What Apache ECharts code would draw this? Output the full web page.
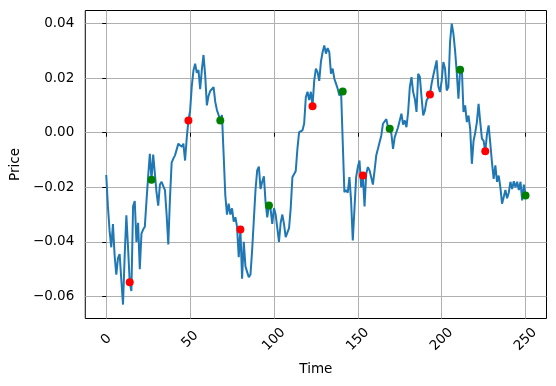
<!DOCTYPE html>
<html>
<head>
<meta charset="utf-8">
<script src="https://cdn.jsdelivr.net/npm/echarts@6.0.0/dist/echarts.min.js"></script>
<style>
  body { margin: 0; background: #fff; }
  #price-view { width: 556px; height: 386px; }
</style>
</head>
<body>
<div id="price-view"></div>
<script>
// price per time step, t = 0 .. 250
var prices = [
  -0.0155, -0.027, -0.036, -0.042, -0.0335, -0.045, -0.052, -0.046, -0.0445, -0.054,
  -0.063, -0.045, -0.0303, -0.042, -0.0548, -0.058, -0.027, -0.025, -0.040, -0.033,
  -0.050, -0.037, -0.0355, -0.0345, -0.025, -0.016, -0.0077, -0.0172, -0.008, -0.015,
  -0.022, -0.0267, -0.019, -0.018, -0.0185, -0.021, -0.030, -0.041, -0.024, -0.011,
  -0.0095, -0.0083, -0.0077, -0.004, -0.0039, -0.0052, -0.004, -0.0102, -0.002, 0.0045,
  0.008, 0.017, 0.0228, 0.0253, 0.022, 0.023, 0.016, 0.023, 0.0285, 0.021,
  0.010, 0.0135, 0.0153, 0.0147, 0.0167, 0.0113, 0.0083, 0.0065, 0.0045, 0.0065,
  -0.008, -0.023, -0.030, -0.026, -0.030, -0.0277, -0.0326, -0.031, -0.0345, -0.0456,
  -0.0355, -0.0535, -0.040, -0.049, -0.051, -0.053, -0.052, -0.043, -0.032, -0.021,
  -0.0138, -0.0124, -0.0206, -0.018, -0.016, -0.0255, -0.031, -0.0267, -0.028, -0.0334,
  -0.0276, -0.030, -0.035, -0.040, -0.033, -0.030, -0.0335, -0.0383, -0.0383, -0.035,
  -0.0276, -0.0163, -0.0163, -0.014, -0.0058, 0.0002, -0.0003, 0.0009, 0.0033, 0.013,
  0.015, 0.012, 0.015, 0.0097, 0.019, 0.0235, 0.0222, 0.019, 0.026, 0.0295,
  0.032, 0.029, 0.031, 0.0295, 0.0216, 0.0235, 0.0198, 0.018, 0.0161, 0.0136,
  0.0155, 0.0151, -0.0218, -0.021, -0.022, -0.0163, -0.025, -0.0395, -0.028, -0.0163,
  -0.0126, -0.0102, -0.020, -0.0157, -0.027, -0.015, -0.0126, -0.0138, -0.0163, -0.019,
  -0.0138, -0.0083, -0.0059, -0.0053, -0.001, 0.0033, 0.0039, 0.005, 0.002, 0.0015,
  -0.0003, -0.0059, -0.0016, -0.002, 0.002, 0.002, 0.007, 0.003, 0.0045, 0.002,
  0.0075, 0.0167, 0.0204, 0.0149, 0.0124, 0.0076, 0.0216, 0.0204, 0.013, 0.0063,
  0.0082, 0.0118, 0.012, 0.014, 0.018, 0.021, 0.021, 0.0265, 0.017, 0.0149,
  0.019, 0.0259, 0.0235, 0.0155, 0.0167, 0.0333, 0.040, 0.0363, 0.030, 0.022,
  0.0125, 0.0231, 0.024, 0.0076, 0.010, 0.0039, 0.0063, 0.0014, -0.0114, -0.003,
  0.000, 0.0039, 0.0106, 0.0039, -0.0022, -0.003, -0.0068, -0.0006, 0.0027, -0.004,
  -0.011, -0.0169, -0.012, -0.018, -0.0157, -0.020, -0.026, -0.0236, -0.021, -0.024,
  -0.022, -0.018, -0.0206, -0.0178, -0.020, -0.018, -0.021, -0.018, -0.0248, -0.019,
  -0.023
];

// marked time steps
var redIdx = [14, 49, 80, 123, 153, 193, 226];
var greenIdx = [27, 68, 97, 141, 169, 211, 250];

// tick labels
var xTicks = [0, 50, 100, 150, 200, 250];
var yTicks = [-0.06, -0.04, -0.02, 0.0, 0.02, 0.04];

var lineData = prices.map(function (v, i) {
  return [i, v];
});
var redData = redIdx.map(function (i) {
  return [i, prices[i]];
});
var greenData = greenIdx.map(function (i) {
  return [i, prices[i]];
});

var font = "DejaVu Sans";
var myChart = echarts.init(document.getElementById("price-view"));
myChart.setOption({
  animation: false,
  textStyle: { fontFamily: font },
  grid: {
    left: 82.5,
    right: 9.5,
    top: 10.5,
    bottom: 67.5,
    show: true,
    borderColor: "#000",
    borderWidth: 1,
  },
  xAxis: {
    type: "value",
    min: -12.5,
    max: 262.5,
    name: "Time",
    nameLocation: "middle",
    nameGap: 44,
    nameTextStyle: { color: "#000", fontSize: 13.5, fontFamily: font },
    axisLine: { show: false },
    axisTick: {
      show: true,
      length: 4,
      lineStyle: { color: "#000" },
      customValues: xTicks,
    },
    axisLabel: {
      customValues: xTicks,
      rotate: 45,
      align: "center",
      verticalAlign: "middle",
      margin: 21,
      color: "#000",
      fontSize: 13.5,
      fontFamily: font,
    },
    splitLine: { show: true, lineStyle: { color: "#b0b0b0", width: 1 } },
  },
  yAxis: {
    type: "value",
    min: -0.0681,
    max: 0.0448,
    name: "Price",
    nameLocation: "middle",
    nameRotate: 90,
    nameGap: 56,
    nameTextStyle: { color: "#000", fontSize: 13.5, fontFamily: font },
    axisLine: { show: false },
    axisTick: {
      show: true,
      length: 4,
      lineStyle: { color: "#000" },
      customValues: yTicks,
    },
    axisLabel: {
      customValues: yTicks,
      margin: 11,
      color: "#000",
      fontSize: 13.5,
      fontFamily: font,
      formatter: function (v) {
        return v.toFixed(2).replace("-", "\u2212");
      },
    },
    splitLine: { show: true, lineStyle: { color: "#b0b0b0", width: 1 } },
  },
  series: [
    {
      name: "Price",
      type: "line",
      data: lineData,
      showSymbol: false,
      lineStyle: { color: "#1f77b4", width: 2 },
      z: 2,
    },
    {
      name: "red",
      type: "scatter",
      data: redData,
      symbolSize: 8,
      itemStyle: { color: "#ff0000", opacity: 1 },
      z: 3,
    },
    {
      name: "green",
      type: "scatter",
      data: greenData,
      symbolSize: 8,
      itemStyle: { color: "#008000", opacity: 1 },
      z: 3,
    },
  ],
});
</script>
</body>
</html>
